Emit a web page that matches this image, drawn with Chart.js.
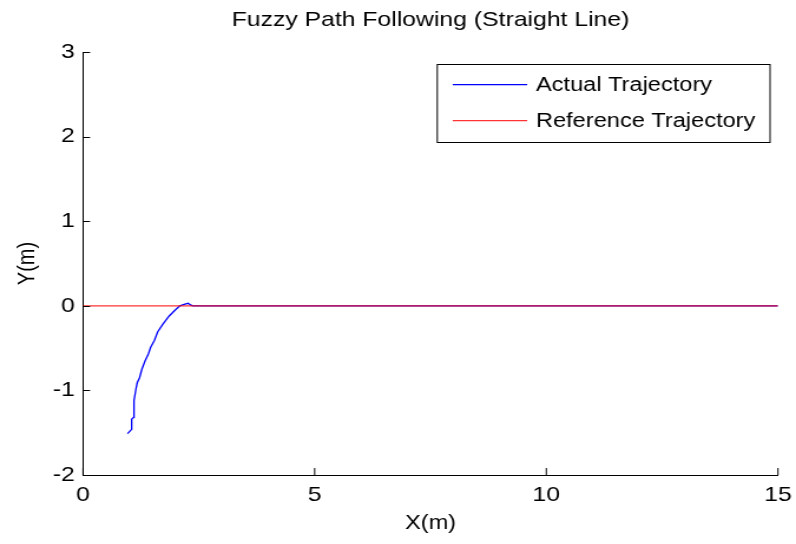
<!DOCTYPE html>
<html>
<head>
<meta charset="utf-8">
<title>Fuzzy Path Following (Straight Line)</title>
<script src="https://cdn.jsdelivr.net/npm/chart.js@4.4.1/dist/chart.umd.min.js"></script>
<style>
  html, body { margin: 0; padding: 0; background: #fff; overflow: hidden; }
  /* figure was exported stretched sideways, so the canvas is drawn narrower and widened by css */
  #chart { display: block; width: 796px; height: 544px; }
</style>
</head>
<body>
<canvas id="chart" width="675" height="544" style="width:796px;height:544px"></canvas>
<script>
// Datos
const actualX = [0.96, 1.05, 1.05, 1.09, 1.10, 1.14, 1.17, 1.22, 1.27, 1.34, 1.41, 1.46, 1.54, 1.61, 1.72, 1.86, 1.99, 2.09, 2.20, 2.27, 2.32, 2.37, 15];
const actualY = [-1.51, -1.46, -1.34, -1.32, -1.12, -0.99, -0.91, -0.85, -0.75, -0.65, -0.57, -0.49, -0.41, -0.31, -0.22, -0.12, -0.05, 0, 0.02, 0.03, 0.01, 0, 0];
const refX = [0, 15];
const refY = [0, 0];
const xTicks = [0, 5, 10, 15];
const yTicks = [-2, -1, 0, 1, 2, 3];
const seriesNames = ['Actual Trajectory', 'Reference Trajectory'];

const FONT = 'Liberation Sans, Arial, Helvetica, sans-serif';

const toPoints = (xs, ys) => xs.map((x, i) => ({ x: x, y: ys[i] }));

// ticks hacia dentro (estilo matlab)
const innerTicks = {
    id: 'innerTicks',
    afterDraw(chart) {
        const { ctx, chartArea, scales } = chart;
        ctx.save();
        ctx.strokeStyle = '#000';
        ctx.lineWidth = 1;
        ctx.beginPath();
        scales.x.ticks.forEach(t => {
            const px = scales.x.getPixelForValue(t.value);
            ctx.moveTo(px, chartArea.bottom);
            ctx.lineTo(px, chartArea.bottom - 7);
        });
        scales.y.ticks.forEach(t => {
            const py = Math.round(scales.y.getPixelForValue(t.value)) + 0.5;
            ctx.moveTo(chartArea.left, py);
            ctx.lineTo(chartArea.left + 6, py);
        });
        ctx.stroke();
        ctx.restore();
    }
};

// leyenda con marco, dentro del área del gráfico
const boxedLegend = {
    id: 'boxedLegend',
    afterDraw(chart) {
        const ctx = chart.ctx;
        const box = { left: 370.8, top: 64.5, right: 653, bottom: 142.5 };
        const rows = [84.7, 120.7];
        ctx.save();
        ctx.fillStyle = '#fff';
        ctx.fillRect(box.left, box.top, box.right - box.left, box.bottom - box.top);
        ctx.strokeStyle = '#000';
        ctx.lineWidth = 1;
        ctx.strokeRect(box.left, box.top, box.right - box.left, box.bottom - box.top);
        ctx.font = '20px ' + FONT;
        ctx.textBaseline = 'middle';
        ctx.textAlign = 'left';
        seriesNames.forEach((name, i) => {
            const ds = chart.data.datasets.find(d => d.label === name);
            ctx.strokeStyle = ds.borderColor;
            ctx.lineWidth = ds.borderWidth;
            ctx.beginPath();
            ctx.moveTo(383.9, rows[i]);
            ctx.lineTo(447.1, rows[i]);
            ctx.stroke();
            ctx.fillStyle = '#000';
            ctx.fillText(name, 454.5, rows[i] + 1);
        });
        ctx.restore();
    }
};

new Chart(document.getElementById('chart'), {
    type: 'scatter',
    data: {
        datasets: [
            {
                label: seriesNames[0],
                data: toPoints(actualX, actualY),
                showLine: true,
                borderColor: 'rgb(0, 0, 255)',
                borderWidth: 1.3,
                pointRadius: 0,
                tension: 0,
                order: 1
            },
            {
                label: seriesNames[1],
                data: toPoints(refX, refY),
                showLine: true,
                borderColor: 'rgba(255, 0, 0, 0.8)',
                borderWidth: 1.3,
                pointRadius: 0,
                order: 0
            }
        ]
    },
    options: {
        responsive: false,
        animation: false,
        devicePixelRatio: 1,
        layout: { padding: { left: 0, right: 15.3, top: 0, bottom: 0 } },
        plugins: {
            legend: { display: false },
            tooltip: { enabled: false },
            title: {
                display: true,
                fullSize: false,
                text: 'Fuzzy Path Following (Straight Line)',
                color: '#000',
                font: { family: FONT, size: 21, weight: 'normal' },
                padding: { top: 8, bottom: 18.8 }
            }
        },
        scales: {
            x: {
                type: 'linear',
                min: 0,
                max: 15,
                afterBuildTicks: s => { s.ticks = xTicks.map(v => ({ value: v })); },
                afterFit: s => {
                    s.height = 69;
                    s.paddingLeft = 0;
                    s.paddingRight = 0;
                },
                grid: { display: false, drawTicks: false },
                border: { display: true, color: '#000', width: 1 },
                ticks: {
                    color: '#000',
                    padding: 8,
                    maxRotation: 0,
                    font: { family: FONT, size: 21 }
                },
                title: {
                    display: true,
                    text: 'X(m)',
                    color: '#000',
                    font: { family: FONT, size: 20 },
                    padding: { top: 0, bottom: 9 }
                }
            },
            y: {
                type: 'linear',
                min: -2,
                max: 3,
                afterBuildTicks: s => { s.ticks = yTicks.map(v => ({ value: v })); },
                afterFit: s => {
                    s.width = 70.4;
                    s.paddingTop = 0;
                    s.paddingBottom = 0;
                },
                grid: { display: false, drawTicks: false },
                border: { display: true, color: '#000', width: 1 },
                ticks: {
                    color: '#000',
                    padding: 7,
                    font: { family: FONT, size: 21 }
                },
                title: {
                    display: true,
                    text: 'Y(m)',
                    color: '#000',
                    font: { family: FONT, size: 20 },
                    padding: { top: 11.3, bottom: 0 }
                }
            }
        }
    },
    plugins: [innerTicks, boxedLegend]
});
</script>
</body>
</html>
